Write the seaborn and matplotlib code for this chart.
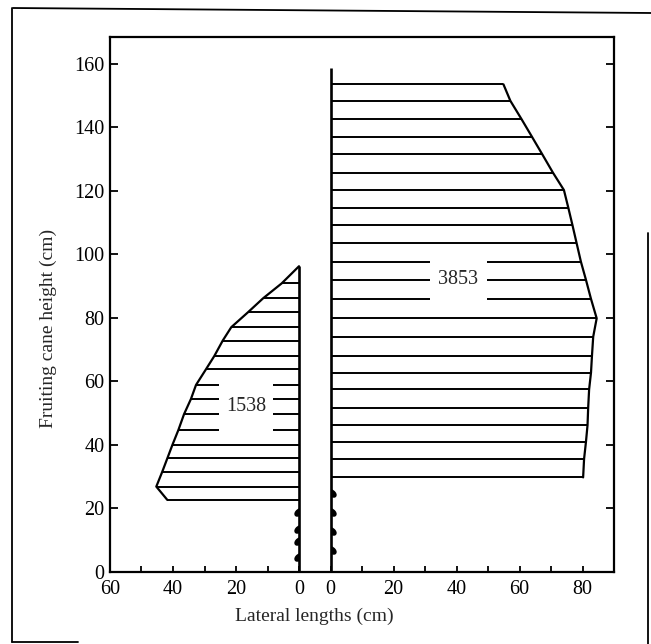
import numpy as np
import pandas as pd
import matplotlib
matplotlib.use("Agg")
import matplotlib.pyplot as plt
import seaborn as sns
from matplotlib.path import Path
from matplotlib.patches import Rectangle
from matplotlib.lines import Line2D

# ---- data ----
left_heights = [90.9, 86.2, 81.8, 77.1, 72.9, 68.0, 63.9, 58.9, 54.5, 49.7,
                44.7, 40.0, 35.8, 31.6, 26.9, 22.7]
left_lengths = [5.5, 11.4, 16.2, 21.5, 24.2, 26.9, 29.5, 32.7, 34.3, 36.5,
                38.3, 40.2, 41.8, 43.4, 45.3, 41.8]
right_heights = [153.6, 148.4, 142.7, 137.0, 131.6, 125.8, 120.3, 114.7, 109.3,
                 103.7, 97.7, 92.0, 86.0, 79.9, 74.1, 68.0, 62.8, 57.5, 51.7,
                 46.3, 41.0, 35.6, 29.8]
right_lengths = [54.9, 57.1, 60.6, 64.0, 67.2, 70.6, 74.1, 75.5, 76.8, 78.1,
                 79.5, 81.1, 82.7, 84.5, 83.4, 83.0, 82.7, 82.1, 81.8, 81.6,
                 81.1, 80.5, 80.2]
cane_tops = [96.3, 158.8]
left_buds = [18.6, 13.2, 9.4, 4.4]
right_buds = [24.6, 18.6, 12.6, 6.6]
totals = ["1538", "3853"]
left_tick_labels = [60, 40, 20, 0]
right_tick_labels = [0, 20, 40, 60, 80]
y_ticks = [0, 20, 40, 60, 80, 100, 120, 140, 160]

GAP = 10  # offset of the right cane on the shared x scale

sns.set_theme(style="ticks")
plt.rcParams["font.family"] = ["Liberation Serif", "DejaVu Serif"]

fig = plt.figure(figsize=(6.51, 6.44), dpi=100)
ax = fig.add_axes([110 / 651, 72 / 644, 504 / 651, 535 / 644])

lh = np.array(left_heights)
ll = -np.array(left_lengths)
rh = np.array(right_heights)
rl = GAP + np.array(right_lengths)

# laterals
ax.hlines(lh, ll, 0, color="black", lw=1.4, zorder=2)
ax.hlines(rh, GAP, rl, color="black", lw=1.4, zorder=2)

# envelopes
env_left = pd.DataFrame({"x": np.r_[0, ll], "y": np.r_[cane_tops[0], lh]})
env_right = pd.DataFrame({"x": rl, "y": rh})
sns.lineplot(data=env_left, x="x", y="y", sort=False, estimator=None,
             color="black", lw=1.6, ax=ax, zorder=2)
sns.lineplot(data=env_right, x="x", y="y", sort=False, estimator=None,
             color="black", lw=1.6, ax=ax, zorder=2)

# canes
ax.vlines([0, GAP], 0, cane_tops, color="black", lw=1.9, zorder=3)

# buds at cane bases (small hooks)
hook_left = Path([(0, 0.5), (-0.7, 0.2), (-0.6, -0.5), (0, -0.2)],
                 [Path.MOVETO, Path.CURVE4, Path.CURVE4, Path.CURVE4])
hook_right = Path([(0, 0.5), (0.7, 0.2), (0.6, -0.5), (0, -0.2)],
                  [Path.MOVETO, Path.CURVE4, Path.CURVE4, Path.CURVE4])
ax.plot(np.zeros(len(left_buds)), left_buds, ls="none",
        marker=hook_left, ms=9, mfc="black", mec="black", mew=1.2, zorder=3)
ax.plot(np.full(len(right_buds), GAP), right_buds, ls="none",
        marker=hook_right, ms=9, mfc="black", mec="black", mew=1.2, zorder=3)

# totals with white gaps in the laterals
ax.add_patch(Rectangle((-25.5, 42.3), 17.3, 18.8, fc="white", ec="none", zorder=4))
ax.text(-16.8, 52, totals[0], ha="center", va="center", fontsize=14.5, zorder=5)
ax.add_patch(Rectangle((GAP + 31.5, 83.3), 18.3, 16.7, fc="white", ec="none", zorder=4))
ax.text(GAP + 40.5, 92, totals[1], ha="center", va="center", fontsize=14.5, zorder=5)

# axes styling
ax.set_xlim(-60, 100)
ax.set_ylim(0, 168.5)
ax.set_facecolor("white")
for s in ax.spines.values():
    s.set_visible(True)
    s.set_linewidth(1.6)
    s.set_color("black")

xt = [-v for v in left_tick_labels] + [GAP + v for v in right_tick_labels]
ax.set_xticks(xt)
ax.set_xticklabels([str(v) for v in left_tick_labels + right_tick_labels])
ax.set_xticks([-50, -30, -10, GAP + 10, GAP + 30, GAP + 50, GAP + 70], minor=True)
ax.set_yticks(y_ticks)
ax.set_yticklabels([str(v) for v in y_ticks])

ax.tick_params(axis="x", which="both", direction="in", length=4, width=1.3,
               top=False, bottom=True, labelsize=14.5, pad=6, colors="black")
ax.tick_params(axis="y", which="major", direction="in", length=6, width=1.3,
               left=True, right=True, labelleft=True, labelright=False,
               labelsize=14.5, pad=4, colors="black")

ax.set_xlabel("Lateral lengths (cm)", fontsize=14, va="top")
ax.set_ylabel("Fruiting cane height (cm)", fontsize=14)
ax.xaxis.set_label_coords(0.405, -0.066)
ax.yaxis.set_label_coords(-0.106, 0.455)

# scan frame
fig.add_artist(Line2D([13 / 651, 1.0], [1 - 8 / 644, 1 - 13 / 644],
                      transform=fig.transFigure, color="black", lw=1.3))
fig.add_artist(Line2D([12 / 651, 12 / 651], [1 - 8 / 644, 1 - 642 / 644],
                      transform=fig.transFigure, color="black", lw=1.3))
fig.add_artist(Line2D([12 / 651, 78 / 651], [1 - 642 / 644, 1 - 642 / 644],
                      transform=fig.transFigure, color="black", lw=1.3))
fig.add_artist(Line2D([648 / 651, 648 / 651], [1 - 233 / 644, 0],
                      transform=fig.transFigure, color="black", lw=1.3))

fig.savefig("out.png", dpi=100, facecolor="white")
